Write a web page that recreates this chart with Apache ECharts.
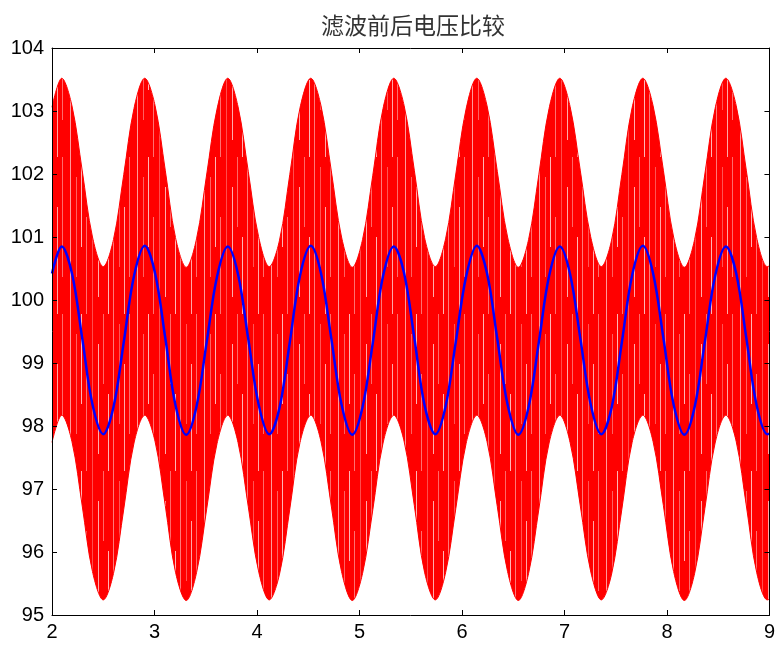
<!DOCTYPE html>
<html>
<head>
<meta charset="utf-8">
<script src="https://cdn.jsdelivr.net/npm/echarts@6/dist/echarts.min.js"></script>
<style>
  html, body { margin: 0; padding: 0; background: #fff; }
  #chart { width: 778px; height: 645px; }
</style>
</head>
<body>
<div id="chart"></div>
<script>
// Time samples (s): peaks, troughs and intermediate points of the slow ripple
const timeS = [
  2.000,
  2.095, 2.195, 2.295, 2.395, 2.500, 2.600, 2.700, 2.800,
  2.905, 3.005, 3.105, 3.205, 3.310, 3.410, 3.510, 3.610,
  3.715, 3.815, 3.915, 4.015, 4.120, 4.220, 4.320, 4.420,
  4.525, 4.625, 4.725, 4.825, 4.930, 5.030, 5.130, 5.230,
  5.335, 5.435, 5.535, 5.635, 5.740, 5.840, 5.940, 6.040,
  6.145, 6.245, 6.345, 6.445, 6.550, 6.650, 6.750, 6.850,
  6.955, 7.055, 7.155, 7.255, 7.360, 7.460, 7.560, 7.660,
  7.765, 7.865, 7.965, 8.065, 8.170, 8.270, 8.370, 8.470,
  8.575, 8.675, 8.775, 8.875, 8.980, 9.000
];

// Filtered voltage (blue)
const filteredV = [
  100.42,
  100.85, 100.42, 99.39, 98.34, 97.87, 98.30, 99.33, 100.38,
  100.86, 100.43, 99.40, 98.33, 97.86, 98.31, 99.34, 100.37,
  100.85, 100.41, 99.38, 98.35, 97.87, 98.29, 99.33, 100.39,
  100.86, 100.42, 99.39, 98.34, 97.86, 98.30, 99.32, 100.38,
  100.85, 100.43, 99.40, 98.33, 97.87, 98.31, 99.34, 100.37,
  100.86, 100.42, 99.38, 98.34, 97.86, 98.30, 99.33, 100.38,
  100.85, 100.41, 99.39, 98.35, 97.87, 98.29, 99.33, 100.39,
  100.86, 100.42, 99.40, 98.34, 97.86, 98.30, 99.34, 100.38,
  100.85, 100.43, 99.39, 98.33, 97.87, 97.88
];

// Unfiltered voltage (red): upper and lower envelope of the fast oscillation
const rawUpper = [
  103.06,
  103.52, 103.08, 102.05, 101.00, 100.53, 100.96, 101.99, 103.04,
  103.52, 103.09, 102.06, 100.99, 100.52, 100.97, 102.00, 103.03,
  103.52, 103.07, 102.04, 101.01, 100.53, 100.95, 101.99, 103.05,
  103.52, 103.08, 102.05, 101.00, 100.52, 100.96, 101.98, 103.04,
  103.52, 103.09, 102.06, 100.99, 100.53, 100.97, 102.00, 103.03,
  103.52, 103.08, 102.04, 101.00, 100.52, 100.96, 101.99, 103.04,
  103.52, 103.07, 102.05, 101.01, 100.53, 100.95, 101.99, 103.05,
  103.52, 103.08, 102.06, 101.00, 100.52, 100.96, 102.00, 103.04,
  103.52, 103.09, 102.05, 100.99, 100.53, 100.54
];
const rawLower = [
  97.74,
  98.17, 97.75, 96.73, 95.69, 95.24, 95.66, 96.68, 97.73,
  98.17, 97.76, 96.74, 95.68, 95.23, 95.67, 96.69, 97.72,
  98.17, 97.74, 96.72, 95.70, 95.24, 95.65, 96.68, 97.74,
  98.17, 97.75, 96.73, 95.69, 95.23, 95.66, 96.67, 97.73,
  98.17, 97.76, 96.74, 95.68, 95.24, 95.67, 96.69, 97.72,
  98.17, 97.75, 96.72, 95.69, 95.23, 95.66, 96.68, 97.73,
  98.17, 97.74, 96.73, 95.70, 95.24, 95.65, 96.68, 97.74,
  98.17, 97.75, 96.74, 95.69, 95.23, 95.66, 96.69, 97.73,
  98.17, 97.76, 96.73, 95.68, 95.24, 95.25
];

const xTicks = [2, 3, 4, 5, 6, 7, 8, 9];
const yTicks = [95, 96, 97, 98, 99, 100, 101, 102, 103, 104];

// Fill texture for the dense oscillation: thin pale strokes on solid red
function makeStreakPattern() {
  const c = document.createElement('canvas');
  c.width = 67; c.height = 157;
  const g = c.getContext('2d');
  g.fillStyle = '#ff0000';
  g.fillRect(0, 0, c.width, c.height);
  // [x, top, bottom, colour]
  const strokes = [
    [3, 0, 157, 'rgba(255,170,170,0.9)'],
    [9, 20, 120, 'rgba(255,120,120,0.8)'],
    [14, 0, 90, 'rgba(255,200,200,0.9)'],
    [19, 60, 157, 'rgba(255,140,140,0.8)'],
    [25, 0, 157, 'rgba(255,110,110,0.7)'],
    [31, 30, 140, 'rgba(255,190,190,0.9)'],
    [36, 0, 70, 'rgba(255,130,130,0.8)'],
    [41, 80, 157, 'rgba(255,200,200,0.9)'],
    [46, 0, 157, 'rgba(255,150,150,0.8)'],
    [52, 10, 110, 'rgba(255,120,120,0.7)'],
    [57, 50, 157, 'rgba(255,185,185,0.9)'],
    [62, 0, 120, 'rgba(255,135,135,0.8)']
  ];
  strokes.forEach(([x, y0, y1, col]) => {
    g.fillStyle = col;
    g.fillRect(x, y0, 1, y1 - y0);
  });
  return c;
}

const chart = echarts.init(document.getElementById('chart'), null, { renderer: 'canvas' });

const pair = (ys) => timeS.map((t, i) => [t, ys[i]]);

const tickFont = { fontFamily: 'Liberation Sans, Arial, sans-serif', fontSize: 20, color: '#000' };
const frameLine = { show: true, lineStyle: { color: '#000', width: 1 } };
const innerTick = { show: true, inside: true, length: 5, lineStyle: { color: '#000' } };
const SMOOTH = 0.35;

chart.setOption({
  animation: false,
  backgroundColor: '#fff',
  title: {
    text: '滤波前后电压比较',
    left: 408,
    textAlign: 'center',
    top: 9,
    textStyle: { fontFamily: 'Noto Sans CJK SC', fontSize: 23, fontWeight: 'normal', color: '#333' }
  },
  grid: { left: 52, right: 8, top: 48, bottom: 30, containLabel: false },
  xAxis: [
    {
      type: 'value', min: xTicks[0], max: xTicks[xTicks.length - 1], interval: 1, z: 10,
      axisLine: frameLine, axisTick: innerTick, splitLine: { show: false },
      axisLabel: Object.assign({ margin: 7, showMinLabel: true, showMaxLabel: true }, tickFont)
    },
    {
      type: 'value', position: 'top', min: xTicks[0], max: xTicks[xTicks.length - 1], interval: 1, z: 10,
      axisLine: frameLine, axisTick: innerTick, splitLine: { show: false }, axisLabel: { show: false }
    }
  ],
  yAxis: [
    {
      type: 'value', min: yTicks[0], max: yTicks[yTicks.length - 1], interval: 1, z: 10,
      axisLine: frameLine, axisTick: innerTick, splitLine: { show: false },
      axisLabel: Object.assign({ margin: 8 }, tickFont)
    },
    {
      type: 'value', position: 'right', min: yTicks[0], max: yTicks[yTicks.length - 1], interval: 1, z: 10,
      axisLine: frameLine, axisTick: innerTick, splitLine: { show: false }, axisLabel: { show: false }
    }
  ],
  series: [
    {
      // unfiltered signal: red fill from the upper envelope down to the axis
      name: '滤波前', type: 'line', data: pair(rawUpper),
      smooth: SMOOTH, symbol: 'none',
      lineStyle: { color: '#ff0000', width: 1 },
      areaStyle: { color: { image: makeStreakPattern(), repeat: 'repeat' }, opacity: 1, origin: 'start' },
      silent: true, z: 1
    },
    {
      // clears the region below the lower envelope
      name: 'rawLowerEdge', type: 'line', data: pair(rawLower),
      smooth: SMOOTH, symbol: 'none',
      lineStyle: { color: '#ff0000', width: 1 },
      areaStyle: { color: '#ffffff', opacity: 1, origin: 'start' },
      silent: true, z: 2
    },
    {
      name: '滤波后', type: 'line', data: pair(filteredV),
      smooth: SMOOTH, symbol: 'none',
      lineStyle: { color: '#0000ff', width: 2.5 },
      silent: true, z: 3
    }
  ]
});
</script>
</body>
</html>
